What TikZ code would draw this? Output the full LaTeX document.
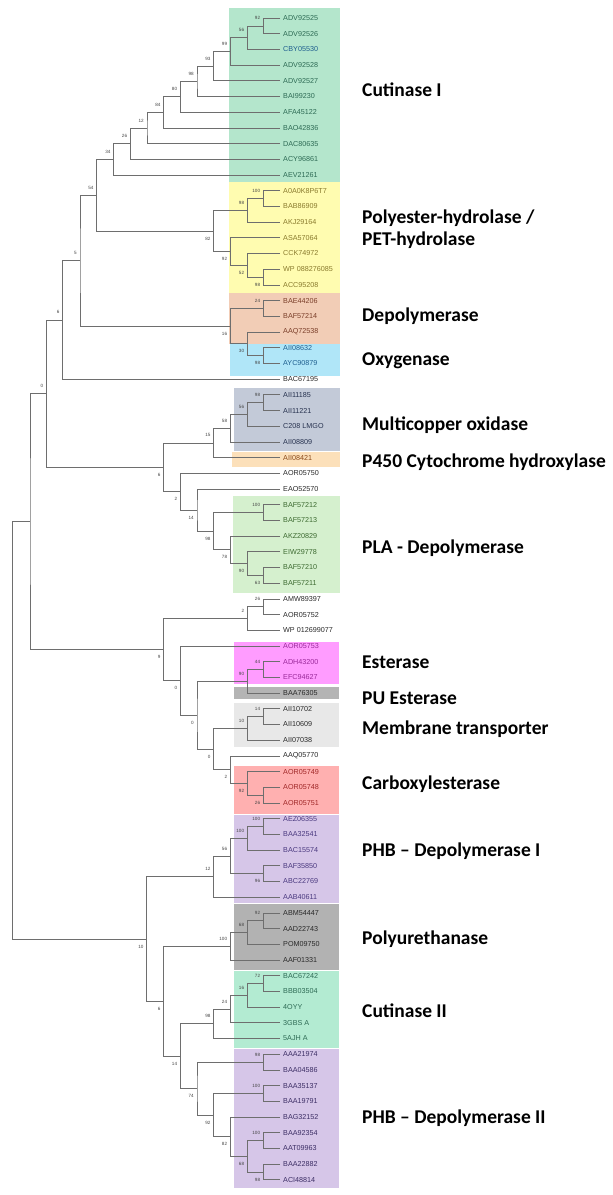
\documentclass[tikz,border=0pt]{standalone}
\usepackage{fontspec}
\setmainfont{Liberation Sans}
\newfontfamily\catfont{Carlito}
\usetikzlibrary{calc}
\definecolor{treegray}{HTML}{6E6E6E}
\definecolor{bsgray}{HTML}{444444}
\definecolor{bxcutA}{HTML}{B4E6CC}
\definecolor{bxyel}{HTML}{FFFCB0}
\definecolor{bxsal}{HTML}{F2CDB6}
\definecolor{bxblue}{HTML}{B0E6F8}
\definecolor{bxmco}{HTML}{C3CAD8}
\definecolor{bxpfs}{HTML}{FCE0BA}
\definecolor{bxpla}{HTML}{D5F0CE}
\definecolor{bxest}{HTML}{FF9CFF}
\definecolor{bxpue}{HTML}{B4B4B4}
\definecolor{bxmem}{HTML}{E8E8E8}
\definecolor{bxcarb}{HTML}{FFB0B0}
\definecolor{bxphb}{HTML}{D6C6E8}
\definecolor{bxpur}{HTML}{B2B2B2}
\definecolor{bxcutB}{HTML}{B3EBD2}
\definecolor{ca}{HTML}{2E6B55}
\definecolor{cb}{HTML}{8A7B2E}
\definecolor{cc}{HTML}{7B3F2A}
\definecolor{cd}{HTML}{1F5F8F}
\definecolor{ce}{HTML}{27324F}
\definecolor{cf}{HTML}{8B4A1A}
\definecolor{cg}{HTML}{3E6B32}
\definecolor{ch}{HTML}{9A2A9A}
\definecolor{ci}{HTML}{A02828}
\definecolor{cj}{HTML}{4B3A80}
\definecolor{cl}{HTML}{3D2F66}
\definecolor{ck}{HTML}{2A2A2A}
\newcommand\mknode[4]{%
  \path let \p1=(#3), \p2=(#4) in coordinate (#1) at (#2,{0.5*(\y1+\y2)});
  \draw[br] (#3) -| (#1) |- (#4);}
\newcommand\bsabove[2]{\node[bs,anchor=east] (b#1) at ($(#1)+(-3,7.5)$) {#2};}
\newcommand\bsbelow[2]{\node[bs,anchor=east] (b#1) at ($(#1)+(-3,-7.5)$) {#2};}
\begin{document}
\begin{tikzpicture}[x=1pt,y=1pt,
  br/.style={draw=treegray, line width=0.7pt},
  leaf/.style={anchor=west, inner sep=0pt, font=\fontsize{7.2}{8}\selectfont},
  bs/.style={inner sep=0pt, font=\fontsize{4.6}{5}\selectfont, text=bsgray},
  cat/.style={anchor=west, inner sep=0pt, font=\catfont\bfseries\fontsize{19.5}{22}\selectfont, text=black}]
\useasboundingbox (0,0) rectangle (613,-1195);
% background boxes
\fill[bxcutA] (229,-8.3) rectangle (339.5,-182.3);
\fill[bxyel] (229,-182.3) rectangle (339.5,-293.3);
\fill[bxsal] (229,-293.3) rectangle (339.5,-344.3);
\fill[bxblue] (230,-344.3) rectangle (339.5,-375.7);
\fill[bxmco] (234,-387.7) rectangle (339.5,-450.7);
\fill[bxpfs] (232.3,-451.7) rectangle (339.5,-466.7);
\fill[bxpla] (233.3,-496) rectangle (339.5,-592.7);
\fill[bxest] (234.3,-642.3) rectangle (339,-684);
\fill[bxpue] (233.7,-686.7) rectangle (339,-699.3);
\fill[bxmem] (233.7,-702.7) rectangle (339,-746.7);
\fill[bxcarb] (233.7,-765.7) rectangle (339,-814.3);
\fill[bxphb] (233.7,-815) rectangle (339,-903.3);
\fill[bxpur] (233.7,-904.3) rectangle (339,-970);
\fill[bxcutB] (233.7,-971) rectangle (339,-1048.3);
\fill[bxphb] (233.7,-1049) rectangle (339,-1188);
% leaves
\foreach \i/\n/\c in {1/ADV92525/ca,2/ADV92526/ca,3/CBY05530/cd,4/ADV92528/ca,5/ADV92527/ca,
  6/BAI99230/ca,7/AFA45122/ca,8/BAO42836/ca,9/DAC80635/ca,10/ACY96861/ca,11/AEV21261/ca,
  12/A0A0K8P6T7/cb,13/BAB86909/cb,14/AKJ29164/cb,15/ASA57064/cb,16/CCK74972/cb,17/WP 088276085/cb,18/ACC95208/cb,
  19/BAE44206/cc,20/BAF57214/cc,21/AAQ72538/cc,22/AII08632/cd,23/AYC90879/cd,24/BAC67195/ck,
  25/AII11185/ce,26/AII11221/ce,27/C208 LMGO/ce,28/AII08809/ce,29/AII08421/cf,30/AOR05750/ck,31/EAO52570/ck,
  32/BAF57212/cg,33/BAF57213/cg,34/AKZ20829/cg,35/EIW29778/cg,36/BAF57210/cg,37/BAF57211/cg,
  38/AMW89397/ck,39/AOR05752/ck,40/WP 012699077/ck,41/AOR05753/ch,42/ADH43200/ch,43/EFC94627/ch,
  44/BAA76305/ck,45/AII10702/ck,46/AII10609/ck,47/AII07038/ck,48/AAQ05770/ck,
  49/AOR05749/ci,50/AOR05748/ci,51/AOR05751/ci,
  52/AEZ06355/cj,53/BAA32541/cj,54/BAC15574/cj,55/BAF35850/cj,56/ABC22769/cj,57/AAB40611/cj,
  58/ABM54447/ck,59/AAD22743/ck,60/POM09750/ck,61/AAF01331/ck,
  62/BAC67242/ca,63/BBB03504/ca,64/4OYY/ca,65/3GBS A/ca,66/5AJH A/ca,
  67/AAA21974/cl,68/BAA04586/cl,69/BAA35137/cl,70/BAA19791/cl,71/BAG32152/cl,72/BAA92354/cl,
  73/AAT09963/cl,74/BAA22882/cl,75/ACI48814/cl}{
  \coordinate (l\i) at (280,{-(18+(\i-1)*15.7)});
  \node[leaf, text=\c] (t\i) at (283,{-(18+(\i-1)*15.7)}) {\n};
}
% Cutinase I ladder
\mknode{N1}{263.3}{l1}{l2}\bsabove{N1}{92}
\mknode{N2}{247.3}{N1}{l3}\bsabove{N2}{56}
\mknode{N3}{230.3}{N2}{l4}\bsabove{N3}{99}
\mknode{N4}{213.7}{N3}{l5}\bsabove{N4}{93}
\mknode{N5}{197}{N4}{l6}\bsabove{N5}{98}
\mknode{N6}{180.3}{N5}{l7}\bsabove{N6}{80}
\mknode{N7}{163.7}{N6}{l8}\bsabove{N7}{84}
\mknode{N8}{147}{N7}{l9}\bsabove{N8}{12}
\mknode{N9}{130.3}{N8}{l10}\bsabove{N9}{26}
\mknode{N10}{113.7}{N9}{l11}\bsabove{N10}{34}
% polyester hydrolases
\mknode{N11}{263.3}{l12}{l13}\bsabove{N11}{100}
\mknode{N12}{247.3}{N11}{l14}\bsabove{N12}{98}
\mknode{N13}{263.3}{l17}{l18}\bsbelow{N13}{98}
\mknode{N14}{247.3}{l16}{N13}\bsbelow{N14}{52}
\mknode{N15}{230.3}{l15}{N14}\bsbelow{N15}{92}
\mknode{N16}{213.7}{N12}{N15}\bsbelow{N16}{82}
\mknode{N17}{96.7}{N10}{N16}\bsabove{N17}{54}
% depolymerase / oxygenase
\mknode{N19}{263.3}{l19}{l20}\bsabove{N19}{24}
\mknode{N20}{263.3}{l22}{l23}\bsbelow{N20}{98}
\mknode{N21}{247.3}{l21}{N20}\bsbelow{N21}{30}
\mknode{N22}{230.3}{N19}{N21}\bsbelow{N22}{16}
\mknode{N18}{80}{N17}{N22}\bsabove{N18}{5}
\mknode{N23}{62.7}{N18}{l24}\bsabove{N23}{6}
% multicopper / P450 / PLA
\mknode{N26}{263.3}{l25}{l26}\bsabove{N26}{98}
\mknode{N27}{247.3}{N26}{l27}\bsabove{N27}{56}
\mknode{N28}{230.3}{N27}{l28}\bsabove{N28}{58}
\mknode{N29}{213.7}{N28}{l29}\bsabove{N29}{15}
\mknode{N34}{263.3}{l32}{l33}\bsabove{N34}{100}
\mknode{Na}{263.3}{l36}{l37}\bsbelow{Na}{63}
\mknode{Nb}{247.3}{l35}{Na}\bsbelow{Nb}{90}
\mknode{Nc}{230.3}{l34}{Nb}\bsbelow{Nc}{78}
\mknode{N33}{213.7}{N34}{Nc}\bsbelow{N33}{98}
\mknode{N32}{197}{l31}{N33}\bsbelow{N32}{14}
\mknode{N31}{180.3}{l30}{N32}\bsbelow{N31}{2}
\mknode{N30}{163.7}{N29}{N31}\bsbelow{N30}{6}
\mknode{N24}{46.5}{N23}{N30}\bsabove{N24}{0}
% esterases
\mknode{N35}{263.3}{l38}{l39}\bsabove{N35}{26}
\mknode{N36}{247.3}{N35}{l40}\bsabove{N36}{2}
\mknode{N42}{263.3}{l42}{l43}\bsabove{N42}{44}
\mknode{N40}{247.3}{N42}{l44}\bsabove{N40}{90}
\mknode{N43}{263.3}{l45}{l46}\bsabove{N43}{14}
\mknode{N44}{247.3}{N43}{l47}\bsabove{N44}{10}
\mknode{N47}{263.3}{l50}{l51}\bsbelow{N47}{26}
\mknode{N46}{247.3}{l49}{N47}\bsbelow{N46}{92}
\mknode{N45}{230.3}{l48}{N46}\bsbelow{N45}{2}
\mknode{N41}{213.7}{N44}{N45}\bsbelow{N41}{0}
\mknode{N39}{197}{N40}{N41}\bsbelow{N39}{0}
\mknode{N38}{180.3}{l41}{N39}\bsbelow{N38}{0}
\mknode{N37}{163.7}{N36}{N38}\bsbelow{N37}{9}
\mknode{NA}{30}{N24}{N37}
% PHB I / polyurethanase / cutinase II / PHB II
\mknode{N48}{263.3}{l52}{l53}\bsabove{N48}{100}
\mknode{N49}{247.3}{N48}{l54}\bsabove{N49}{100}
\mknode{N51}{263.3}{l55}{l56}\bsbelow{N51}{96}
\mknode{N50}{230.3}{N49}{N51}\bsabove{N50}{56}
\mknode{N52}{213.7}{N50}{l57}\bsabove{N52}{12}
\mknode{N55}{263.3}{l58}{l59}\bsabove{N55}{92}
\mknode{N56}{247.3}{N55}{l60}\bsabove{N56}{68}
\mknode{N57}{230.3}{N56}{l61}\bsabove{N57}{100}
\mknode{N59}{263.3}{l62}{l63}\bsabove{N59}{72}
\mknode{N60}{247.3}{N59}{l64}\bsabove{N60}{16}
\mknode{N61}{230.3}{N60}{l65}\bsabove{N61}{24}
\mknode{N62}{213.7}{N61}{l66}\bsabove{N62}{98}
\mknode{N65}{263.3}{l67}{l68}\bsabove{N65}{98}
\mknode{N67}{263.3}{l69}{l70}\bsabove{N67}{100}
\mknode{N70}{263.3}{l72}{l73}\bsabove{N70}{100}
\mknode{N71}{263.3}{l74}{l75}\bsbelow{N71}{98}
\mknode{N69}{247.3}{N70}{N71}\bsbelow{N69}{68}
\mknode{N68}{230.3}{l71}{N69}\bsbelow{N68}{82}
\mknode{N66}{213.7}{N67}{N68}\bsbelow{N66}{92}
\mknode{N64}{197}{N65}{N66}\bsbelow{N64}{74}
\mknode{N63}{180.3}{N62}{N64}\bsbelow{N63}{14}
\mknode{N54}{163.7}{N57}{N63}\bsbelow{N54}{6}
\mknode{N53}{146.7}{N52}{N54}\bsbelow{N53}{10}
\mknode{R}{12.7}{NA}{N53}
% category labels
\node[cat] (k1) at (362,-90) {Cutinase I};
\node[cat] (k2) at (362,-218) {Polyester-hydrolase /};
\node[cat] (k3) at (362,-240) {PET-hydrolase};
\node[cat] (k4) at (362,-316) {Depolymerase};
\node[cat] (k5) at (362,-361) {Oxygenase};
\node[cat] (k6) at (362,-425) {Multicopper oxidase};
\node[cat] (k7) at (362,-462) {P450 Cytochrome hydroxylase};
\node[cat] (k8) at (362,-548) {PLA - Depolymerase};
\node[cat] (k9) at (362,-662) {Esterase};
\node[cat] (k10) at (362,-698) {PU Esterase};
\node[cat] (k11) at (362,-729) {Membrane transporter};
\node[cat] (k12) at (362,-784) {Carboxylesterase};
\node[cat] (k13) at (362,-851) {PHB – Depolymerase I};
\node[cat] (k14) at (362,-939) {Polyurethanase};
\node[cat] (k15) at (362,-1011) {Cutinase II};
\node[cat] (k16) at (362,-1118) {PHB – Depolymerase II};
\end{tikzpicture}
\end{document}
